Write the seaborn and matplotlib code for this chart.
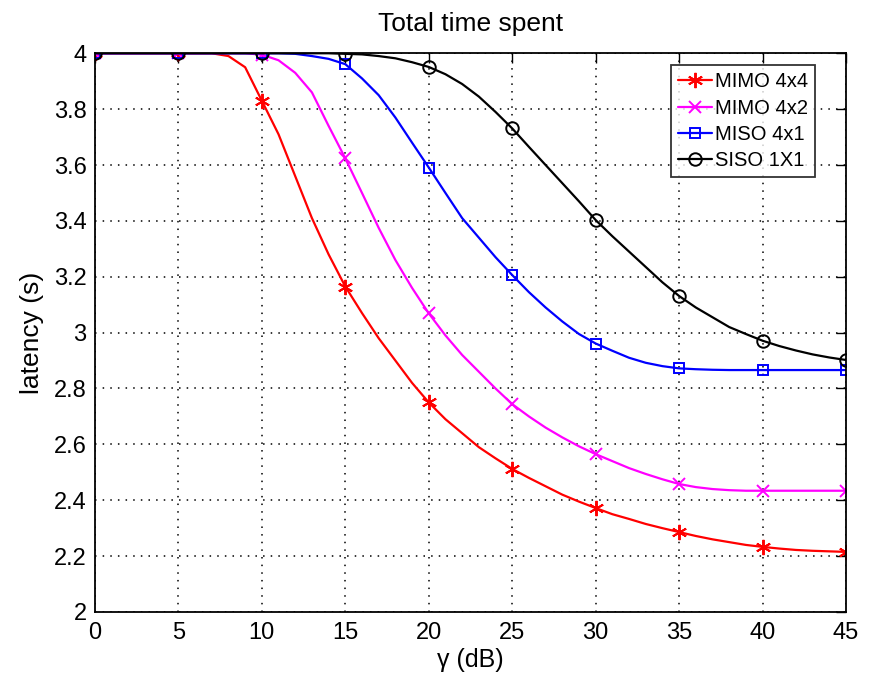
import numpy as np
import pandas as pd
import matplotlib
matplotlib.use("Agg")
import matplotlib.pyplot as plt
import seaborn as sns
from matplotlib.ticker import FormatStrFormatter

sns.set_style("white")
plt.rcParams['font.family'] = ['Liberation Sans', 'DejaVu Sans']
plt.rcParams['text.color'] = 'black'
plt.rcParams['axes.labelcolor'] = 'black'

gamma_db = list(range(0, 46))

mimo_4x4 = [4.0, 4.0, 4.0, 4.0, 4.0, 4.0, 4.0, 4.0, 3.99, 3.95,
            3.83, 3.71, 3.56, 3.41, 3.28, 3.165, 3.07, 2.98, 2.90, 2.82,
            2.75, 2.69, 2.64, 2.59, 2.55, 2.512, 2.48, 2.45, 2.42, 2.395,
            2.372, 2.35, 2.333, 2.315, 2.30, 2.286, 2.272, 2.26, 2.25, 2.24,
            2.233, 2.227, 2.222, 2.219, 2.217, 2.215]

mimo_4x2 = [4.0, 4.0, 4.0, 4.0, 4.0, 4.0, 4.0, 4.0, 4.0, 4.0,
            3.995, 3.975, 3.93, 3.86, 3.74, 3.624, 3.50, 3.375, 3.26, 3.16,
            3.069, 2.99, 2.92, 2.86, 2.80, 2.744, 2.70, 2.66, 2.625, 2.593,
            2.565, 2.54, 2.515, 2.494, 2.475, 2.458, 2.447, 2.440, 2.436, 2.434,
            2.434, 2.434, 2.434, 2.434, 2.434, 2.434]

miso_4x1 = [4.0, 4.0, 4.0, 4.0, 4.0, 4.0, 4.0, 4.0, 4.0, 4.0,
            4.0, 4.0, 3.998, 3.99, 3.98, 3.961, 3.91, 3.85, 3.77, 3.68,
            3.591, 3.50, 3.41, 3.34, 3.27, 3.206, 3.145, 3.09, 3.04, 2.995,
            2.961, 2.935, 2.91, 2.892, 2.88, 2.872, 2.869, 2.867, 2.866, 2.866,
            2.866, 2.866, 2.866, 2.866, 2.866, 2.866]

siso_1x1 = [4.0, 4.0, 4.0, 4.0, 4.0, 4.0, 4.0, 4.0, 4.0, 4.0,
            4.0, 4.0, 4.0, 4.0, 4.0, 3.998, 3.996, 3.99, 3.982, 3.968,
            3.951, 3.925, 3.89, 3.845, 3.79, 3.731, 3.665, 3.60, 3.535, 3.47,
            3.403, 3.345, 3.29, 3.235, 3.18, 3.131, 3.09, 3.055, 3.02, 2.995,
            2.971, 2.952, 2.936, 2.922, 2.911, 2.902]

series_names = ["MIMO 4x4", "MIMO 4x2", "MISO 4x1", "SISO 1X1"]
series_values = [mimo_4x4, mimo_4x2, miso_4x1, siso_1x1]
colors = ["#ff0000", "#ff00ff", "#0000ff", "#000000"]
markers = [(6, 2, 0), "x", "s", "o"]
msizes = [11, 8, 6.5, 9]

fig = plt.figure(figsize=(8.79, 6.83), dpi=100)
ax = fig.add_axes([0.108, 0.104, 0.8545, 0.818])

for name, vals, c, m, ms in zip(series_names, series_values, colors, markers, msizes):
    df = pd.DataFrame({"gamma": gamma_db, "latency": vals})
    sns.lineplot(data=df, x="gamma", y="latency", ax=ax, color=c, marker=m,
                 markersize=ms, markevery=5, mfc="none", mec=c, mew=1.4,
                 linewidth=1.6, label=name)

ax.set_xlim(0, 45)
ax.set_ylim(2, 4)
ax.set_xticks(range(0, 46, 5))
ax.set_yticks(np.arange(2, 4.01, 0.2))
ax.yaxis.set_major_formatter(FormatStrFormatter('%g'))
ax.tick_params(direction='in', top=True, right=True, length=7, width=1,
               labelsize=17, colors='black')
ax.tick_params(axis='x', pad=7)
ax.tick_params(axis='y', pad=6)
ax.grid(True, linestyle=(0, (1, 4)), color='black', linewidth=1.1)
for s in ax.spines.values():
    s.set_color('black')
    s.set_linewidth(1.3)

ax.set_xlabel("γ (dB)", fontsize=18, labelpad=3, color='black')
ax.set_ylabel("latency (s)", fontsize=19, labelpad=7, color='black')
ax.set_title("Total time spent", fontsize=19, pad=16, color='black')

leg = ax.legend(loc='upper right', bbox_to_anchor=(0.9587, 0.9785), fontsize=14.5,
                frameon=True, fancybox=False, edgecolor='black',
                handlelength=1.7, handletextpad=0.15, borderpad=0.35,
                labelspacing=0.36, borderaxespad=0.0)
leg.get_frame().set_linewidth(1.3)
for t in leg.get_texts():
    t.set_color('black')

fig.savefig("out.png", dpi=100)
